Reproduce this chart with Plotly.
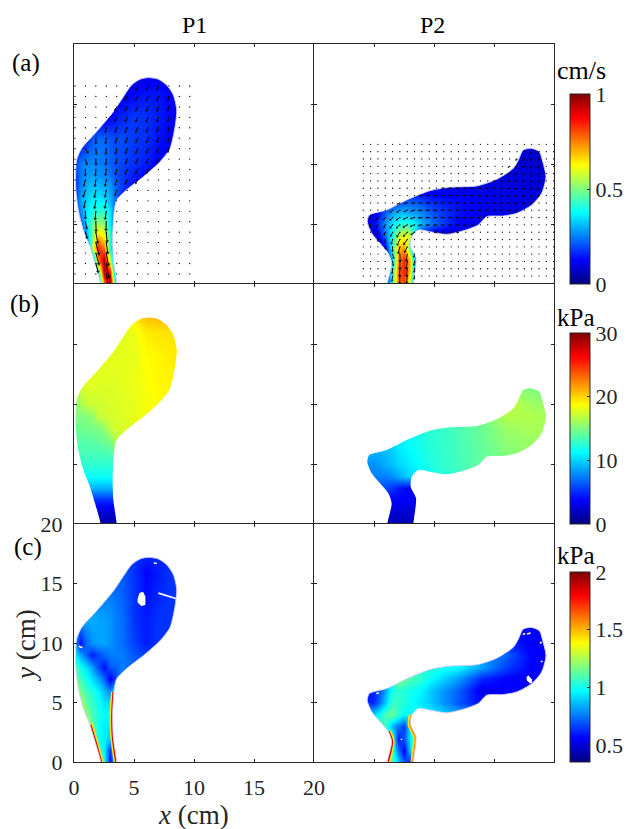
import numpy as np
import plotly.graph_objects as go

# ---------- geometry (cm) ----------
outline1_x = [2.22,1.75,1.33,0.78,0.36,0.14,0.22,0.64,1.89,3.28,4.11,4.8,5.5,6.19,7.03,7.72,8.28,8.56,8.42,8.0,7.17,5.78,4.53,3.56,3.33,3.22,3.28,3.56]
outline1_y = [0,1.72,3.11,4.5,6.17,8.11,10.33,11.3,12.7,14.36,15.6,16.58,17.06,17.2,17.06,16.58,15.75,14.5,13.1,11.3,10.19,8.94,7.97,7.0,5.89,3.94,2.0,0]
outline2_x = [6.11,6.47,6.19,5.5,4.81,4.44,4.61,6.06,7.72,9.67,11.33,13.56,15.22,16.61,17.03,17.44,18.14,18.78,19.06,19.33,18.97,18.14,16.89,15.78,14.39,13.69,12.44,11.06,9.67,8.69,8.14,8.06,8.5,8.28]
outline2_y = [0,1.72,2.56,3.39,4.22,5.19,5.75,6.17,7.0,7.78,8.06,8.17,8.72,9.64,10.33,11.17,11.3,11.03,10.19,8.94,7.56,6.58,5.89,5.67,5.61,4.92,4.44,4.14,4.36,4.5,3.94,3.11,2.14,0]

# ---------- field grids ----------
grid1_x = [0,.5,1,1.5,2,2.5,3,3.5,4,5,6,7,8,9]
grid1_y = [0,1,2,3,4,5,6,7,8,9,10,12,14,16,18]
grid2_x = [4,5,5.5,6,6.5,7,7.5,8,8.5,9,10,12,14,16,18,20]
grid2_y = [0,1,2,3,4,5,6,7,8,9,10,12]

# velocity, cm/s x100
vel1 = [
 [10,10,10,10,15,75,100,30,10,10,10,10,10,10],
 [10,10,10,10,40,95,85,10,10,10,10,10,10,10],
 [10,10,10,15,75,95,55,8,8,8,8,8,8,8],
 [10,10,10,55,85,75,40,8,8,8,8,8,8,8],
 [10,10,25,50,68,62,42,8,8,8,8,8,8,8],
 [15,18,35,48,54,50,36,12,8,8,8,8,8,8],
 [15,25,35,40,42,42,35,18,10,10,10,10,10,10],
 [15,28,33,36,36,35,30,22,14,10,10,10,10,10],
 [15,25,30,32,32,30,28,22,18,12,10,10,10,10],
 [15,24,27,28,27,26,24,20,18,15,12,10,10,10],
 [18,24,26,26,25,24,22,20,19,17,15,12,11,11],
 [12,12,16,21,23,23,21,20,20,18,17,14,12,12],
 [10,10,10,10,10,10,12,14,16,18,17,15,13,10],
 [10,10,10,10,10,10,10,10,10,12,14,14,12,10],
 [9,9,9,9,9,9,9,9,9,9,9,9,9,9],
]
vel2 = [
 [5,5,5,10,45,75,80,55,10,5,5,5,5,5,5,5],
 [5,5,5,5,42,76,85,66,12,5,5,5,5,5,5,5],
 [5,5,5,5,32,72,84,68,18,5,5,5,5,5,5,5],
 [5,5,6,15,40,68,72,45,8,5,5,5,5,5,5,5],
 [5,7,14,25,40,55,62,58,30,10,6,6,6,6,6,6],
 [6,12,20,28,35,40,42,40,35,30,22,12,9,9,9,9],
 [6,9,15,22,28,30,30,28,27,25,20,14,11,10,9,9],
 [6,6,9,11,13,16,20,20,20,18,15,13,11,10,9,9],
 [8,8,8,8,8,9,9,9,9,9,10,10,10,10,9,9],
 [8,8,8,8,8,8,8,8,8,8,8,9,9,9,9,9],
 [8,8,8,8,8,8,8,8,8,8,8,8,8,8,8,8],
 [8,8,8,8,8,8,8,8,8,8,8,8,8,8,8,8],
]
# pressure, kPa
pres1 = [
 [1,1,1,1,1,1,1,1,1,1,1,1,1,1],
 [2.5,2.5,2.5,2.5,2.5,2.5,2.5,2.5,2.5,2.5,2.5,2.5,2.5,2.5],
 [5,5,5,5,5,5,5,5,5,5,5,5,5,5],
 [9,9,9,9,9,9,9,9,9,9,9,9,9,9],
 [11.5,11.5,11.5,11.5,11.5,11.5,11.5,11.5,11.5,11.5,11.5,11.5,11.5,11.5],
 [12.6,12.6,12.6,12.6,12.6,12.6,12.6,12.6,12.6,12.6,12.6,12.6,12.6,12.6],
 [13.4,13.4,13.4,13.4,13.4,13.4,13.6,14.5,14.5,14.5,14.5,14.5,14.5,14.5],
 [13.8,13.8,13.9,14,14.2,14.6,15,16.5,17,17.5,17.5,17.5,17.5,17.5],
 [14.5,14.5,14.6,14.8,15,15.5,17,17.5,17.5,18,18.5,18.5,18.5,18.5],
 [15,15,15.2,15.5,17,17.3,17.5,17.6,17.8,18,18.5,18.7,18.8,18.8],
 [15.5,16,17,17.2,17.4,17.5,17.6,17.7,17.8,18,18.5,18.8,19,19],
 [18,18,18,18,17.8,17.8,17.8,17.8,18,18.2,18.6,19,19,19],
 [18,18,18,18,18,18,18,18,18,18,18.8,19,19.3,19.5],
 [18,18,18,18,18,18,18,18,18,18.2,19.3,19.5,19.5,19.5],
 [19,19,19,19,19,19,19,19,19,20,21.5,21.5,21.5,21.5],
]
pres2 = [
 [1.5,1.5,1.5,1.5,1.5,1.5,1.5,1.6,1.8,2,2,2,2,2,2,2],
 [2.5,2.5,2.5,2.5,2.5,2.5,2.5,2.5,2.5,2.5,2.5,2.5,2.5,2.5,2.5,2.5],
 [3.6,3.6,3.6,3.6,3.6,3.6,3.6,3.6,3.6,3.6,3.6,3.6,3.6,3.6,3.6,3.6],
 [6,6,6,6,5.2,4.5,4,3.6,3.5,3.5,3.5,3.5,3.5,3.5,3.5,3.5],
 [7.5,7.5,7.5,7.5,8,8.8,9.6,10,10.3,10.8,12,13,14,14,14,14],
 [8,8,8.5,9,9.4,10,10.4,10.8,11.2,11.7,12.3,13.2,14.2,14.2,14.2,14.2],
 [9,9,9,9.3,9.8,10.5,10.9,11.2,11.5,11.9,12.4,13.2,14.2,15.2,15.8,15.8],
 [10,10,10,10,10.3,10.8,11.1,11.4,11.7,12,12.5,13.3,14.3,15.4,15.8,15.8],
 [11,11,11,11,11,11,11.3,11.6,11.9,12.2,12.6,13.4,14.4,15.8,16.2,16],
 [12,12,12,12,12,12,12,12,12.5,12.5,13,13.6,14.8,16.5,16.5,16],
 [13,13,13,13,13,13,13,13,13,13,13.5,14,15.5,17,16,15.5],
 [14,14,14,14,14,14,14,14,14,14,14,14.5,15,15,14.5,14.5],
]
# stress, kPa x100
wss1 = [
 [125,125,125,125,125,100,55,105,105,105,105,105,105,105],
 [135,135,135,135,108,95,65,115,115,115,115,115,115,115],
 [130,130,130,122,100,95,90,110,110,110,110,110,110,110],
 [130,130,130,115,100,94,94,105,105,105,105,105,105,105],
 [135,135,122,108,102,97,97,112,112,112,112,112,112,112],
 [128,128,112,106,100,92,92,110,115,115,115,115,115,115],
 [130,116,108,102,96,86,78,95,95,95,95,95,95,95],
 [122,108,100,92,84,72,54,68,78,78,78,78,78,78],
 [112,100,92,82,68,58,70,72,76,72,72,72,72,72],
 [96,84,72,60,68,72,76,76,76,70,66,64,64,64],
 [86,58,72,80,82,82,80,76,74,66,60,64,64,64],
 [82,82,84,84,82,82,80,76,74,64,60,64,64,64],
 [76,76,76,76,76,76,76,74,72,64,58,62,64,64],
 [70,70,70,70,70,70,70,70,70,64,56,60,64,64],
 [64,64,64,64,64,64,64,64,64,64,64,64,64,64],
]
wss2 = [
 [130,130,130,130,110,90,70,60,130,130,130,130,130,130,130,130],
 [120,120,120,120,105,75,55,90,125,125,125,125,125,125,125,125],
 [120,120,120,120,105,60,70,95,125,125,125,125,125,125,125,125],
 [110,110,110,105,85,75,65,95,110,110,110,110,110,110,110,110],
 [90,90,100,110,115,105,97,97,102,98,94,84,70,70,70,70],
 [58,62,75,90,105,105,102,99,96,93,86,70,56,58,58,58],
 [58,62,70,85,100,105,102,100,98,95,86,72,52,56,55,55],
 [62,62,70,85,100,120,115,110,107,104,96,82,62,56,55,55],
 [62,62,70,85,100,120,115,110,107,104,102,97,82,66,56,55],
 [62,62,70,85,100,120,115,110,107,104,102,97,82,72,56,55],
 [62,62,70,85,100,120,115,110,107,104,102,97,82,62,55,55],
 [62,62,70,85,100,120,115,110,107,104,102,97,82,55,55,55],
]

# ---------- quiver nodes (direction in degrees, 0 = no arrow) ----------
q1_x0, q1_dx, q1_nx = 0.08, 0.87, 12
q1_y0, q1_dy, q1_ny = 16.5, 0.87, 19
q1_angles = [
 (6,[250,250,250]),(5,[245,245,248,250,250]),(4,[240,243,245,248,250,250]),
 (4,[245,245,248,250,250,252]),(3,[258,250,248,248,250,250,255]),
 (2,[270,262,255,250,248,250,250,255]),(1,[300,275,265,258,250,248,248,250,255]),
 (1,[285,272,265,258,250,245,245,248]),(1,[268,266,262,255,248,245,245]),
 (1,[255,262,258,252,245,240]),(1,[252,258,258,250]),(1,[258,260,258]),
 (1,[270,265,262]),(1,[282,272,268]),(1,[285,280,275]),(2,[285,278]),
 (2,[285,280]),(2,[285,280]),(3,[280]),
]
q2_x0, q2_dx, q2_nx = 4.11, 0.61, 27
q2_y0, q2_dy, q2_ny = 11.64, 0.61, 20
q2_angles = [
 (0,[]),(23,[230,230]),(21,[225,225,228,230]),(20,[215,220,222,225,228]),
 (19,[205,210,215,218,222,228]),(18,[195,200,205,210,215,220,225]),
 (11,[175,175,178,180,182,185,188,190,195,200,205,210,215,222]),
 (8,[180,178,176,176,176,178,180,182,185,188,190,192,195,200,208,215,222]),
 (5,[205,195,188,182,180,178,178,178,180,182,184,186,188,190,192,195,200,208,215]),
 (4,[225,215,205,195,188,184,182,180,180,182,184,186,188,188,190,192,195,200]),
 (1,[235,235,232,225,215,205,195,188,184,182,182,184,186,188,190,192]),
 (1,[245,245,240,232,222,212,200,192,188,186,186,188,190,192,195]),
 (2,[255,250,245,238,228,215,0,0,190,190,192,195]),
 (2,[265,262,255,245,235]),(3,[275,268,255,245]),(4,[285,272,262,255]),
 (4,[280,270,262,258]),(4,[265,268,265,262]),(4,[262,268,265,262]),(4,[262,268,265]),
]

# ---------- stress panel details ----------
wall1_left_x = [2.22,1.75,1.33]
wall1_left_y = [0,1.72,3.11]
wall1_right_x = [3.56,3.28,3.22,3.33]
wall1_right_y = [0,2.0,3.94,5.89]
wall2_left_x = [6.11,6.47,6.19]
wall2_left_y = [0,1.72,2.56]
wall2_right_x = [8.28,8.5,8.06,8.14]
wall2_right_y = [0,2.14,3.11,3.94]
hole1_x = [5.3,5.45,5.75,5.95,5.95,5.6,5.3]
hole1_y = [13.7,14.2,14.3,13.9,13.2,13.1,13.4]
slits1 = [([7.03,8.56],[14.19,13.72]),([6.65,6.9],[16.72,16.68]),([0.4,0.7],[9.72,9.6])]
hole2_x = [17.7,17.85,18.15,18.2,18.0,17.75]
hole2_y = [7.1,7.3,6.95,6.65,6.6,6.85]
slits2 = [([17.4,17.6],[10.72,10.8]),([17.75,18.05],[10.75,10.85]),([18.9,19.05],[8.45,8.45]),
          ([18.85,18.95],[9.95,10.1]),([5.2,5.4],[5.75,5.8]),([7.27,7.3],[1.85,1.95])]

JET = [[0,'rgb(0,0,128)'],[0.125,'rgb(0,0,255)'],[0.375,'rgb(0,255,255)'],
       [0.625,'rgb(255,255,0)'],[0.875,'rgb(255,0,0)'],[1,'rgb(128,0,0)']]
FONT = "Liberation Serif"
DARK = "#262626"
FRINGE = "rgba(205,205,255,0.9)"
L, R, T, B = 74, 554, 44, 762
W, H = 628, 829

def fy(py):
    return (B - py) / (B - T)

def lookup(gx, gy, z, x, y):
    col = [np.interp(x, gx, row) for row in z]
    return float(np.interp(y, gy, col))

fig = go.Figure()
rows = [(44, 284), (284, 524), (524, 762)]
cols = [(74, 314), (314, 554)]

def ax(r, c):
    n = r * 2 + c + 1
    return ("x%d" % n, "y%d" % n)

def mask(r, c, ox, oy, edge="white", edge_w=0):
    xa, ya = ax(r, c)
    mx = [-30, 50, 50, -30, -30] + [ox[0], ox[0]] + list(ox) + [ox[-1], ox[0], -30]
    my = [-30, -30, 50, 50, -30] + [-30, -1] + list(oy) + [-1, -30, -30]
    fig.add_trace(go.Scatter(x=mx, y=my, mode="lines", fill="toself", fillcolor="white",
                             line=dict(width=edge_w, color=edge, shape="spline", smoothing=0.7),
                             xaxis=xa, yaxis=ya, hoverinfo="skip"))

def field(r, c, gx, gy, z, zmin, zmax, cb=None):
    xa, ya = ax(r, c)
    fig.add_trace(go.Heatmap(x=gx, y=gy, z=z, zmin=zmin, zmax=zmax, zsmooth="best", colorscale=JET,
                             showscale=cb is not None, colorbar=cb, xaxis=xa, yaxis=ya, hoverinfo="skip"))

def cbar(top, bottom, vals, text):
    return dict(x=(569.5 - L) / (R - L), xanchor="left", xpad=0, ypad=0, y=fy(bottom), yanchor="bottom",
                lenmode="pixels", len=bottom - top, thicknessmode="pixels", thickness=20,
                outlinecolor=DARK, outlinewidth=1, ticks="inside", ticklen=3, tickcolor=DARK,
                tickvals=vals, ticktext=text, tickfont=dict(family=FONT, size=22, color=DARK))

def quiver(r, c, spec, table, gx, gy, z, base, gain, width, head0, head1):
    xa, ya = ax(r, c)
    x0, dx, nx, y0, dy, ny = spec
    dots_x, dots_y = [], []
    for i in range(ny):
        for j in range(nx):
            dots_x.append(x0 + dx * j)
            dots_y.append(y0 - dy * i)
    fig.add_trace(go.Scatter(x=dots_x, y=dots_y, mode="markers", xaxis=xa, yaxis=ya, hoverinfo="skip",
                             marker=dict(size=1.3, color="black", line=dict(width=0))))
    sx, sy, hx, hy, ha, hs = [], [], [], [], [], []
    for i, (start, angs) in enumerate(table):
        for k, a in enumerate(angs):
            if a == 0:
                continue
            xn = x0 + dx * (start + k)
            yn = y0 - dy * i
            s = lookup(gx, gy, z, xn, yn) / 100
            ln = base + gain * s
            ex = xn + ln * np.cos(np.radians(a))
            ey = yn + ln * np.sin(np.radians(a))
            sx += [xn, ex, None]
            sy += [yn, ey, None]
            hx.append(ex); hy.append(ey); ha.append(90 - a); hs.append(head0 + head1 * s)
    fig.add_trace(go.Scatter(x=sx, y=sy, mode="lines", line=dict(color="black", width=width),
                             xaxis=xa, yaxis=ya, hoverinfo="skip"))
    fig.add_trace(go.Scatter(x=hx, y=hy, mode="markers", xaxis=xa, yaxis=ya, hoverinfo="skip",
                             marker=dict(symbol="triangle-up", size=hs, angle=ha, color="black", line=dict(width=0))))

def wall(r, c, wx, wy, outer, inner):
    xa, ya = ax(r, c)
    fig.add_trace(go.Scatter(x=wx, y=wy, mode="lines", line=dict(color=outer, width=6, shape="spline", smoothing=0.7),
                             xaxis=xa, yaxis=ya, hoverinfo="skip"))
    fig.add_trace(go.Scatter(x=wx, y=wy, mode="lines", line=dict(color=inner, width=3, shape="spline", smoothing=0.7),
                             xaxis=xa, yaxis=ya, hoverinfo="skip"))

def holes(r, c, hx, hy, slits):
    xa, ya = ax(r, c)
    fig.add_trace(go.Scatter(x=hx, y=hy, mode="lines", fill="toself", fillcolor="white",
                             line=dict(width=0, color="white"), xaxis=xa, yaxis=ya, hoverinfo="skip"))
    for sx, sy in slits:
        fig.add_trace(go.Scatter(x=sx, y=sy, mode="lines", line=dict(color="white", width=1.6),
                                 xaxis=xa, yaxis=ya, hoverinfo="skip"))

wss1_k = (np.array(wss1) / 100).tolist()
wss2_k = (np.array(wss2) / 100).tolist()
vel1_u = (np.array(vel1) / 100).tolist()
vel2_u = (np.array(vel2) / 100).tolist()

# row a
field(0, 0, grid1_x, grid1_y, vel1_u, 0, 1, cbar(94, 284, [0, .5, 1], ["0", "0.5", "1"]))
mask(0, 0, outline1_x, outline1_y, FRINGE, 1)
quiver(0, 0, (q1_x0, q1_dx, q1_nx, q1_y0, q1_dy, q1_ny), q1_angles, grid1_x, grid1_y, vel1, 0.15, 1.2, 1.0, 2.5, 2.5)
field(0, 1, grid2_x, grid2_y, vel2_u, 0, 1)
mask(0, 1, outline2_x, outline2_y, FRINGE, 1)
quiver(0, 1, (q2_x0, q2_dx, q2_nx, q2_y0, q2_dy, q2_ny), q2_angles, grid2_x, grid2_y, vel2, 0.08, 0.65, 0.9, 2, 2)
# row b
field(1, 0, grid1_x, grid1_y, pres1, 0, 30, cbar(333, 524, [0, 10, 20, 30], ["0", "10", "20", "30"]))
mask(1, 0, outline1_x, outline1_y)
field(1, 1, grid2_x, grid2_y, pres2, 0, 30)
mask(1, 1, outline2_x, outline2_y)
# row c
field(2, 0, grid1_x, grid1_y, wss1_k, 0.353, 2, cbar(572, 762, [.5, 1, 1.5, 2], ["0.5", "1", "1.5", "2"]))
wall(2, 0, wall1_left_x, wall1_left_y, "#ffe000", "#d00000")
wall(2, 0, wall1_right_x, wall1_right_y, "#ffe000", "#d00000")
mask(2, 0, outline1_x, outline1_y, FRINGE, 1)
holes(2, 0, hole1_x, hole1_y, slits1)
field(2, 1, grid2_x, grid2_y, wss2_k, 0.353, 2)
wall(2, 1, wall2_left_x, wall2_left_y, "#ffe000", "#e00000")
wall(2, 1, wall2_right_x, wall2_right_y, "#ffe000", "#ff8000")
mask(2, 1, outline2_x, outline2_y, FRINGE, 1)
holes(2, 1, hole2_x, hole2_y, slits2)

layout = dict(width=W, height=H, margin=dict(l=L, r=W - R, t=T, b=H - B, pad=0, autoexpand=False),
              paper_bgcolor="white", plot_bgcolor="white", showlegend=False,
              font=dict(family=FONT, color=DARK))
ticks = [0, 5, 10, 15, 20]
tf = dict(family=FONT, size=22, color=DARK)
for r, (pt, pb) in enumerate(rows):
    for c, (pl, pr) in enumerate(cols):
        n = r * 2 + c + 1
        suffix = "" if n == 1 else str(n)
        common = dict(range=[0, 20], tickvals=ticks, ticktext=[str(t) for t in ticks], ticks="inside", ticklen=3,
                      tickcolor=DARK, tickwidth=1, showgrid=False, zeroline=False, showline=True,
                      linecolor=DARK, linewidth=1, mirror="ticks", tickfont=tf)
        labelled = (r == 2 and c == 0)
        layout["xaxis" + suffix] = dict(common, domain=[(pl - L) / (R - L), (pr - L) / (R - L)],
                                        anchor="y" + suffix, showticklabels=labelled, ticklabelstandoff=6)
        layout["yaxis" + suffix] = dict(common, domain=[fy(pb), fy(pt)],
                                        anchor="x" + suffix, showticklabels=labelled, ticklabelstandoff=6)

def pnote(px, py, text, size, angle=0, color="black"):
    return dict(x=(px - L) / (R - L), y=fy(py), xref="paper", yref="paper", xanchor="center", yanchor="middle",
                text=text, showarrow=False, textangle=angle, font=dict(family=FONT, size=size, color=color))

layout["annotations"] = [
    pnote(194, 25, "P1", 24), pnote(432, 25, "P2", 24),
    pnote(26, 63, "(a)", 25), pnote(24, 304, "(b)", 25), pnote(28, 547, "(c)", 25),
    pnote(581, 70, "cm/s", 26), pnote(576, 317, "kPa", 25), pnote(576, 555, "kPa", 25),
    pnote(193, 815, "<i>x</i> (cm)", 27, color=DARK), pnote(26, 646, "<i>y</i> (cm)", 27, angle=-90, color=DARK),
]
fig.update_layout(**layout)
fig.write_html("out.html", post_script="document.body.style.margin='0';", config={"displayModeBar": False})
